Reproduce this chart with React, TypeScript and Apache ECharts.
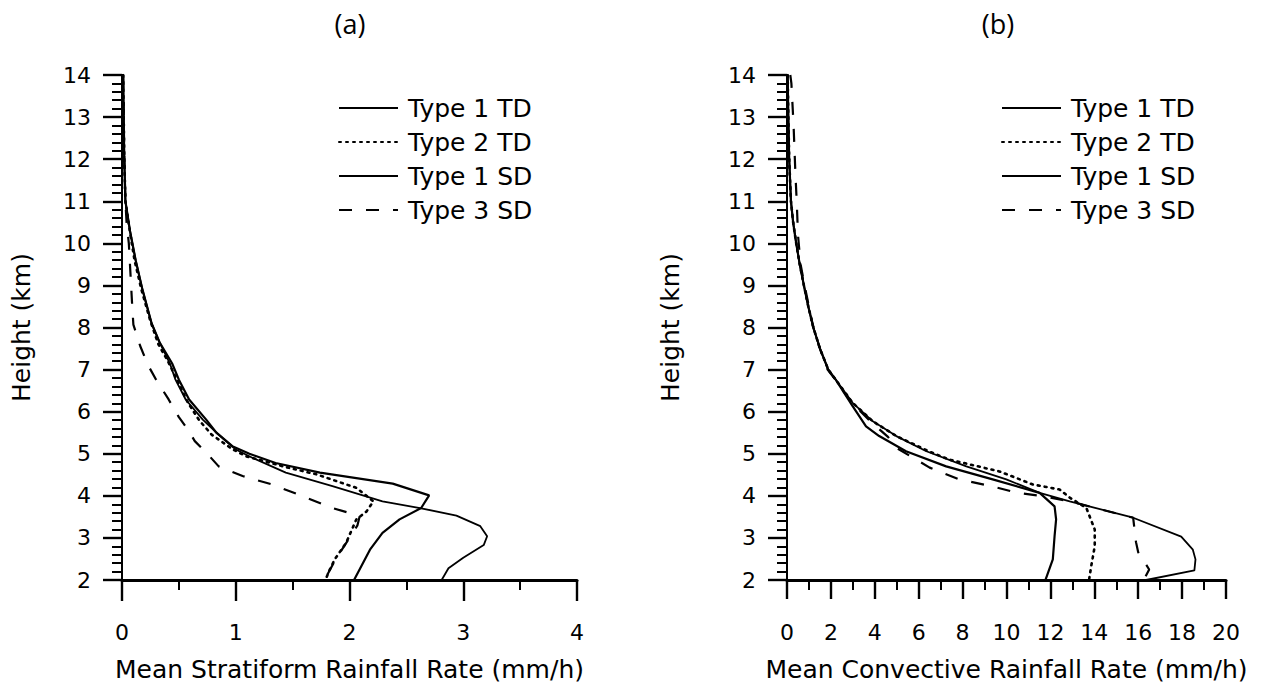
import React, { useEffect, useRef } from "react";
import * as echarts from "echarts";

// ---------- Panel (a): mean stratiform rainfall rate (mm/h) vs height (km)
const aType1TD_h = [14, 12, 11, 10.3, 9.6, 8.9, 8.1, 7.65, 7.15, 6.76, 6.29, 5.81, 5.5, 5.18, 5.0, 4.78, 4.55, 4.29, 4.01, 3.71, 3.44, 3.12, 2.72, 2.0];
const aType1TD_v = [0.01, 0.02, 0.03, 0.07, 0.12, 0.18, 0.26, 0.33, 0.44, 0.5, 0.59, 0.74, 0.83, 0.97, 1.12, 1.35, 1.74, 2.38, 2.7, 2.63, 2.44, 2.29, 2.18, 2.04];

const aType2TD_h = [14, 12, 11, 10.27, 9.6, 8.91, 8.15, 7.6, 7.22, 6.72, 6.21, 5.79, 5.45, 5.11, 4.94, 4.69, 4.51, 4.19, 3.87, 3.63, 3.44, 2.88, 2.49, 2.21, 2.01];
const aType2TD_v = [0.01, 0.02, 0.03, 0.07, 0.11, 0.17, 0.25, 0.32, 0.4, 0.49, 0.58, 0.68, 0.79, 0.97, 1.09, 1.43, 1.71, 2.06, 2.21, 2.15, 2.06, 1.97, 1.87, 1.82, 1.79];

const aType1SD_h = [14, 12, 11, 10.3, 9.6, 8.9, 8.1, 7.65, 7.15, 6.76, 6.29, 5.81, 5.5, 5.1, 4.9, 4.55, 4.23, 3.87, 3.71, 3.53, 3.28, 3.04, 2.83, 2.53, 2.28, 2.0];
const aType1SD_v = [0.01, 0.02, 0.03, 0.07, 0.12, 0.18, 0.26, 0.33, 0.42, 0.47, 0.56, 0.71, 0.83, 1.0, 1.15, 1.44, 1.85, 2.29, 2.62, 2.94, 3.15, 3.21, 3.18, 3.0, 2.87, 2.81];

const aType3SD_h = [14, 12, 11, 10.5, 10, 9.5, 9, 8.5, 8.07, 7.56, 7.1, 6.76, 6.29, 5.87, 5.57, 5.3, 4.94, 4.7, 4.47, 4.27, 3.99, 3.71, 3.52, 3.3, 3.0, 2.5, 2.0];
const aType3SD_v = [0.01, 0.02, 0.03, 0.04, 0.06, 0.07, 0.08, 0.09, 0.1, 0.16, 0.23, 0.3, 0.41, 0.5, 0.58, 0.64, 0.77, 0.85, 1.06, 1.32, 1.59, 1.85, 2.09, 2.07, 2.0, 1.88, 1.78];

// ---------- Panel (b): mean convective rainfall rate (mm/h) vs height (km)
const bType1TD_h = [14, 13, 12, 11, 10.5, 10, 9.5, 9, 8.5, 8, 7.5, 7, 6.76, 6.13, 5.65, 5.42, 5.06, 4.7, 4.39, 4.07, 3.75, 3.44, 3.04, 2.49, 2.01];
const bType1TD_v = [0.03, 0.06, 0.1, 0.18, 0.28, 0.42, 0.58, 0.77, 0.97, 1.2, 1.5, 1.88, 2.22, 2.99, 3.6, 4.2, 5.42, 7.25, 9.37, 11.51, 12.19, 12.26, 12.19, 12.11, 11.78];

const bType2TD_h = [14, 13, 12, 11, 10.5, 10, 9.5, 9, 8.5, 8, 7.5, 7, 6.76, 6.21, 5.77, 5.42, 5.06, 4.86, 4.58, 4.27, 4.15, 3.95, 3.71, 3.2, 2.8, 2.33, 2.0];
const bType2TD_v = [0.03, 0.06, 0.1, 0.18, 0.28, 0.42, 0.58, 0.77, 0.97, 1.2, 1.5, 1.88, 2.22, 2.99, 3.91, 4.98, 6.45, 7.4, 9.68, 11.2, 12.42, 12.9, 13.64, 14.02, 14.02, 13.86, 13.76];

const bType1SD_h = [14, 13, 12, 11, 10.5, 10, 9.5, 9, 8.5, 8, 7.5, 7, 6.76, 6.21, 5.77, 5.42, 5.06, 4.7, 4.39, 4.07, 3.87, 3.48, 3.03, 2.72, 2.49, 2.23, 2.0];
const bType1SD_v = [0.03, 0.06, 0.1, 0.18, 0.28, 0.42, 0.58, 0.77, 0.97, 1.2, 1.5, 1.88, 2.22, 2.99, 3.91, 4.98, 6.35, 8.17, 9.99, 11.51, 12.88, 15.77, 17.96, 18.49, 18.61, 18.56, 16.36];

const bType3SD_h = [14, 13.8, 12.8, 11.7, 10.9, 10.2, 9.5, 9, 8.5, 8, 7.5, 7, 6.76, 6.21, 5.77, 5.4, 5.14, 4.67, 4.39, 4.24, 4.07, 3.99, 3.87, 3.48, 2.9, 2.66, 2.25, 2.0];
const bType3SD_v = [0.15, 0.2, 0.3, 0.38, 0.45, 0.5, 0.62, 0.8, 1.0, 1.2, 1.5, 1.85, 2.2, 2.95, 3.8, 4.6, 4.98, 6.5, 7.85, 9.22, 10.52, 11.66, 12.88, 15.77, 15.9, 16.0, 16.5, 16.25];

const seriesNames = ["Type 1 TD", "Type 2 TD", "Type 1 SD", "Type 3 SD"];
const panelTitles = ["(a)", "(b)"];
const xNames = ["Mean Stratiform Rainfall Rate (mm/h)", "Mean Convective Rainfall Rate (mm/h)"];
const yName = "Height (km)";

const FONT = "'DejaVu Sans', sans-serif";

const pairs = (h: number[], v: number[]) => h.map((hh, i) => [v[i], hh]);

const styles: any[] = [
  { type: "solid", width: 2.2 },
  { type: [2, 5], width: 2.6, cap: "round" },
  { type: "solid", width: 1.8 },
  { type: [13, 14], width: 2.2 },
];

export default function App() {
  const ref = useRef<HTMLDivElement>(null);
  useEffect(() => {
    if (!ref.current) return;
    const chart = echarts.init(ref.current, undefined, { renderer: "svg" });

    const panelData = [
      [pairs(aType1TD_h, aType1TD_v), pairs(aType2TD_h, aType2TD_v), pairs(aType1SD_h, aType1SD_v), pairs(aType3SD_h, aType3SD_v)],
      [pairs(bType1TD_h, bType1TD_v), pairs(bType2TD_h, bType2TD_v), pairs(bType1SD_h, bType1SD_v), pairs(bType3SD_h, bType3SD_v)],
    ];

    const series: any[] = [];
    panelData.forEach((list, p) => {
      list.forEach((d, i) => {
        series.push({
          name: seriesNames[i],
          type: "line",
          xAxisIndex: p,
          yAxisIndex: p,
          data: d,
          symbol: "none",
          showSymbol: false,
          lineStyle: { color: "#000", ...styles[i] },
          itemStyle: { color: "#000" },
          emphasis: { disabled: true },
          z: 3,
        });
      });
    });

    const axisLabel = { color: "#000", fontFamily: FONT, fontSize: 22 };
    const nameStyle = { color: "#000", fontFamily: FONT, fontSize: 25 };

    const xAxis = (idx: number, max: number, interval: number, majorLen: number) => ({
      type: "value",
      gridIndex: idx,
      min: 0,
      max,
      interval,
      name: xNames[idx],
      nameLocation: "middle",
      nameGap: 77,
      nameTextStyle: nameStyle,
      axisLine: { show: true, onZero: false, lineStyle: { color: "#000", width: 3 } },
      axisTick: { show: true, length: majorLen, lineStyle: { color: "#000", width: 2.4 } },
      minorTick: { show: true, splitNumber: 2, length: 10, lineStyle: { color: "#000", width: 2 } },
      axisLabel: { ...axisLabel, margin: 41 },
      splitLine: { show: false },
    });

    const yAxis = (idx: number, gap: number) => ({
      type: "value",
      gridIndex: idx,
      min: 2,
      max: 14,
      interval: 1,
      name: yName,
      nameLocation: "middle",
      nameGap: gap,
      nameTextStyle: nameStyle,
      axisLine: { show: true, onZero: false, lineStyle: { color: "#000", width: 2 } },
      axisTick: { show: true, length: 19, lineStyle: { color: "#000", width: 2.4 } },
      minorTick: { show: true, splitNumber: 5, length: 10, lineStyle: { color: "#000", width: 2 } },
      axisLabel: { ...axisLabel, margin: 31 },
      splitLine: { show: false },
    });

    const legend = (left: number) => ({
      orient: "vertical",
      left,
      top: 86,
      itemWidth: 59,
      itemHeight: 14,
      itemGap: 0,
      selectedMode: false,
      data: seriesNames,
      itemStyle: { color: "transparent", borderWidth: 0, opacity: 0 },
      textStyle: { color: "#000", fontFamily: FONT, fontSize: 25, lineHeight: 34, padding: [0, 0, 0, 5] },
    });

    chart.setOption({
      animation: false,
      backgroundColor: "#fff",
      grid: [
        { left: 122, top: 75, width: 455, height: 506 },
        { left: 787, top: 75, width: 439, height: 506 },
      ],
      xAxis: [xAxis(0, 4, 1, 21), xAxis(1, 20, 2, 19)],
      yAxis: [yAxis(0, 88), yAxis(1, 104)],
      legend: [legend(333), legend(996)],
      graphic: [
        { type: "text", x: 350, y: 23, style: { text: panelTitles[0], fill: "#000", font: "27px 'Open Sans', sans-serif", textAlign: "center", textVerticalAlign: "middle" } },
        { type: "text", x: 998, y: 23, style: { text: panelTitles[1], fill: "#000", font: "27px 'Open Sans', sans-serif", textAlign: "center", textVerticalAlign: "middle" } },
      ],
      series,
    });

    return () => chart.dispose();
  }, []);

  return <div ref={ref} style={{ position: "absolute", left: 0, top: 0, width: 1269, height: 687, background: "#fff" }} />;
}
